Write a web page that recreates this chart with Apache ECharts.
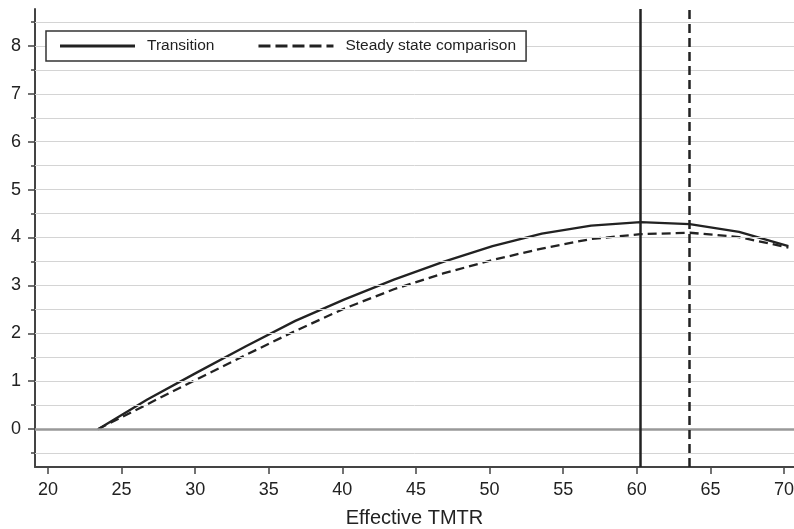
<!DOCTYPE html>
<html>
<head>
<meta charset="utf-8">
<script src="https://cdn.jsdelivr.net/npm/echarts@6/dist/echarts.min.js"></script>
<style>
  html, body { margin: 0; padding: 0; background: #fff; }
  #chart { width: 794px; height: 529px; }
</style>
</head>
<body>
<div id="chart"></div>
<script>
// effective TMTR grid used by both curves
const tmtr = [23.4, 26.75, 30.1, 33.45, 36.8, 40.15, 43.5, 46.85, 50.2, 53.55, 56.9, 60.25, 63.6, 66.95, 70.3];
const transition = [0, 0.62, 1.18, 1.73, 2.26, 2.71, 3.12, 3.49, 3.82, 4.08, 4.25, 4.32, 4.28, 4.12, 3.82];
const steadyState = [0, 0.52, 1.04, 1.55, 2.05, 2.52, 2.92, 3.25, 3.53, 3.77, 3.97, 4.07, 4.10, 4.01, 3.79];

// peaks marked by vertical lines
const transitionPeak = 60.25;
const steadyPeak = 63.55;

const xTicks = [20, 25, 30, 35, 40, 45, 50, 55, 60, 65, 70];
const yTicks = [0, 1, 2, 3, 4, 5, 6, 7, 8];
const yMinorTicks = [-0.5, 0.5, 1.5, 2.5, 3.5, 4.5, 5.5, 6.5, 7.5, 8.5];
const gridValues = [-0.5, 0.5, 1, 1.5, 2, 2.5, 3, 3.5, 4, 4.5, 5, 5.5, 6, 6.5, 7, 7.5, 8, 8.5];

const pair = (xs, ys) => xs.map((x, i) => [x, ys[i]]);

const FONT = '"Liberation Sans", Arial, sans-serif';
const X_MIN = 19.12, X_MAX = 70.68;
const Y_MIN = -0.79, Y_MAX = 8.77;
const DASH = [9, 5];

// legend swatches: a plain bar and a row of dashes (75 x 3 box)
const solidIcon = 'path://M0,0H75V3H0Z';
const dashedIcon = 'path://M0,0H12V3H0Z M17,0H29V3H17Z M34,0H46V3H34Z M51,0H63V3H51Z M68,0H75V3H68Z';

const chart = echarts.init(document.getElementById('chart'));

const option = {
  backgroundColor: '#fff',
  animation: false,
  grid: { left: 35, right: 0, top: 9, bottom: 62, containLabel: false, outerBoundsMode: 'none' },
  legend: {
    data: [
      { name: 'Transition', icon: solidIcon },
      { name: 'Steady state comparison', icon: dashedIcon },
    ],
    left: 46,
    top: 31,
    z: 10,
    padding: [6, 10, 6, 14],
    itemGap: 44,
    itemWidth: 75,
    itemHeight: 3,
    backgroundColor: '#fff',
    borderColor: '#333',
    borderWidth: 1.5,
    textStyle: { color: '#222', fontSize: 15.5, fontFamily: FONT, padding: [0, 0, 0, 7], lineHeight: 18 },
  },
  xAxis: {
    type: 'value',
    min: X_MIN,
    max: X_MAX,
    name: 'Effective TMTR',
    nameLocation: 'middle',
    nameGap: 41,
    nameTextStyle: { color: '#222', fontSize: 20, fontFamily: FONT },
    axisLine: { show: true, onZero: false, lineStyle: { color: '#444', width: 2 } },
    axisTick: { show: true, length: 7, customValues: xTicks, lineStyle: { color: '#444', width: 1.5 } },
    axisLabel: { customValues: xTicks, color: '#222', fontSize: 18, fontFamily: FONT, margin: 14 },
    splitLine: { show: false },
  },
  yAxis: [
    {
      type: 'value',
      min: Y_MIN,
      max: Y_MAX,
      axisLine: { show: true, onZero: false, lineStyle: { color: '#444', width: 2 } },
      axisTick: { show: true, length: 7, customValues: yTicks, lineStyle: { color: '#444', width: 1.5 } },
      axisLabel: { customValues: yTicks, color: '#222', fontSize: 18, fontFamily: FONT, margin: 14 },
      splitLine: { show: false },
    },
    {
      type: 'value',
      position: 'left',
      min: Y_MIN,
      max: Y_MAX,
      axisLine: { show: false },
      axisTick: { show: true, length: 4, customValues: yMinorTicks, lineStyle: { color: '#444', width: 1.5 } },
      axisLabel: { show: false },
      splitLine: { show: false },
    },
  ],
  series: [
    {
      // horizontal gridlines and zero line
      type: 'line',
      data: [],
      silent: true,
      z: 1,
      markLine: {
        symbol: 'none',
        silent: true,
        label: { show: false },
        data: gridValues.map(v => ({ yAxis: v, lineStyle: { color: '#d4d4d4', width: 1, type: 'solid' } }))
          .concat([{ yAxis: 0, lineStyle: { color: '#999', width: 2.5, type: 'solid' } }]),
      },
    },
    {
      name: 'Transition',
      type: 'line',
      data: pair(tmtr, transition),
      symbol: 'none',
      z: 3,
      lineStyle: { color: '#222', width: 2.3, type: 'solid' },
      itemStyle: { color: '#222' },
      markLine: {
        symbol: 'none',
        silent: true,
        label: { show: false },
        lineStyle: { color: '#222', width: 2.5, type: 'solid' },
        data: [{ xAxis: transitionPeak }],
      },
    },
    {
      name: 'Steady state comparison',
      type: 'line',
      data: pair(tmtr, steadyState),
      symbol: 'none',
      z: 3,
      lineStyle: { color: '#222', width: 2.3, type: DASH },
      itemStyle: { color: '#222' },
      markLine: {
        symbol: 'none',
        silent: true,
        label: { show: false },
        lineStyle: { color: '#222', width: 2.5, type: DASH },
        data: [{ xAxis: steadyPeak }],
      },
    },
  ],
};

chart.setOption(option);
</script>
</body>
</html>
